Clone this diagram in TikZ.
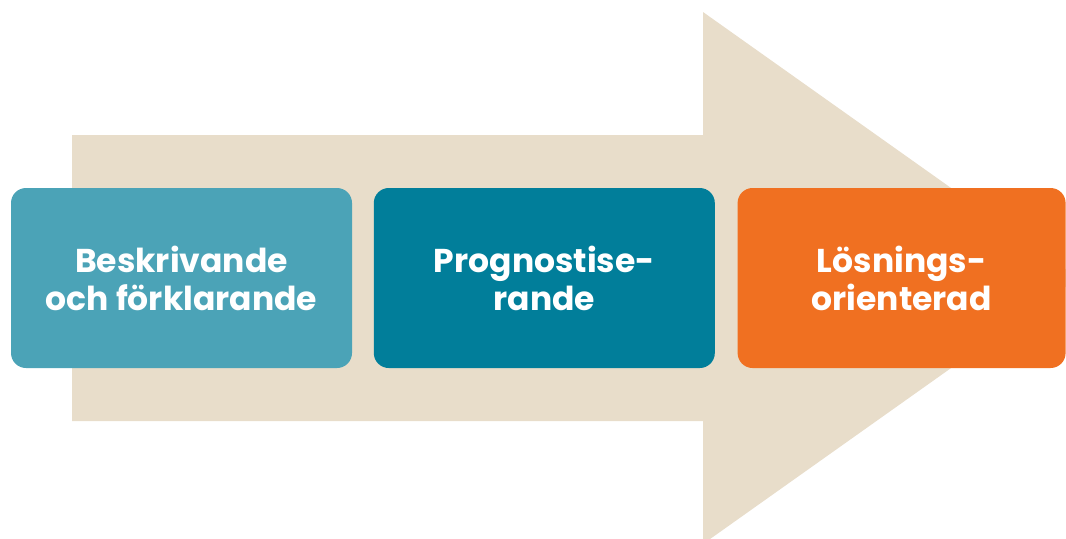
\documentclass[tikz,border=0pt]{standalone}
\usepackage{fontspec}
\setmainfont{Poppins}
\usetikzlibrary{positioning}

\definecolor{sand}{HTML}{E8DDCA}
\definecolor{lightteal}{HTML}{4BA3B7}
\definecolor{darkteal}{HTML}{017E9A}
\definecolor{flame}{HTML}{F07021}

\begin{document}
\begin{tikzpicture}[x=0.5pt, y=-0.5pt,
    box/.style={rectangle, rounded corners=7.5pt, minimum width=170.5pt, minimum height=90pt,
        align=center, text=white, font=\bfseries\fontsize{16.5}{19}\selectfont}]
    \useasboundingbox (0,0) rectangle (1066,538);
    \clip (0,0) rectangle (1066,538);

    % Background arrow
    \fill[sand] (72,135) -- (703,135) -- (703,12) -- (1078,278) -- (703,544) -- (703,421) -- (72,421) -- cycle;

    % Steps
    \node[box, fill=lightteal] (describe) at (181.5,278) {Beskrivande\\och förklarande};
    \node[box, fill=darkteal, right=10.5pt of describe] (forecast) {Prognostise-\\rande};
    \node[box, fill=flame, minimum width=164pt, right=11pt of forecast] (solve) {Lösnings-\\orienterad};
\end{tikzpicture}
\end{document}
